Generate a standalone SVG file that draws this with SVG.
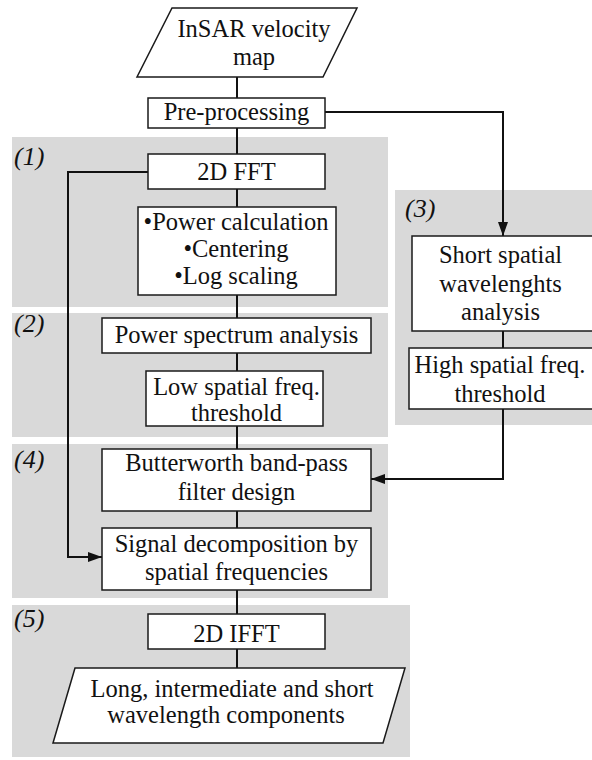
<svg xmlns="http://www.w3.org/2000/svg" width="592" height="760" viewBox="0 0 592 760">
<defs>
<style>
.reg{fill:#d9d9d9;stroke:none}
.box{fill:#ffffff;stroke:#1a1a1a;stroke-width:1.5}
.t{font-family:"Liberation Serif","Times New Roman",serif;font-size:24.5px;fill:#111;text-anchor:middle}
.lab{font-family:"Liberation Serif","Times New Roman",serif;font-size:26px;font-style:italic;fill:#111}
.ln{fill:none;stroke:#111;stroke-width:2}
</style>
<marker id="ah" viewBox="0 0 14 10" refX="14" refY="5" markerWidth="14" markerHeight="10" markerUnits="userSpaceOnUse" orient="auto">
<path d="M0,0 L14,5 L0,10 Z" fill="#111"/>
</marker>
</defs>
<rect width="592" height="760" fill="#ffffff"/>
<g id="regions">
<rect class="reg" x="12" y="137" width="376" height="170"/>
<rect class="reg" x="12" y="313" width="376" height="124"/>
<rect class="reg" x="395" y="190" width="197" height="235"/>
<rect class="reg" x="12" y="444" width="376" height="154"/>
<rect class="reg" x="12" y="605" width="398" height="152"/>
<text class="lab" x="14" y="165">(1)</text>
<text class="lab" x="14" y="332">(2)</text>
<text class="lab" x="405" y="217">(3)</text>
<text class="lab" x="14" y="468">(4)</text>
<text class="lab" x="14" y="627">(5)</text>
</g>
<g id="connectors">
<line class="ln" x1="237" y1="77" x2="237" y2="98"/>
<line class="ln" x1="237" y1="128" x2="237" y2="154"/>
<line class="ln" x1="237" y1="189" x2="237" y2="207"/>
<line class="ln" x1="237" y1="295" x2="237" y2="318"/>
<line class="ln" x1="237" y1="353" x2="237" y2="371"/>
<line class="ln" x1="237" y1="426" x2="237" y2="449"/>
<line class="ln" x1="237" y1="511" x2="237" y2="528"/>
<line class="ln" x1="237" y1="590" x2="237" y2="614"/>
<line class="ln" x1="237" y1="649" x2="237" y2="668"/>
<polyline class="ln" points="325,112 503,112 503,236" marker-end="url(#ah)"/>
<polyline class="ln" points="148,172 68,172 68,557 102,557" marker-end="url(#ah)"/>
<line class="ln" x1="503" y1="331" x2="503" y2="348"/>
<polyline class="ln" points="503,409 503,479 371,479" marker-end="url(#ah)"/>
</g>
<g id="n-insar">
<polygon class="box" points="172,8 357,8 323,77 137,77"/>
<text class="t" x="254" y="37">InSAR velocity</text>
<text class="t" x="254" y="65">map</text>
</g>
<g id="n-preproc">
<rect class="box" x="148" y="98" width="177" height="30"/>
<text class="t" x="236.5" y="120">Pre-processing</text>
</g>
<g id="n-fft">
<rect class="box" x="148" y="154" width="177" height="35"/>
<text class="t" x="236.5" y="180">2D FFT</text>
</g>
<g id="n-power">
<rect class="box" x="138" y="207" width="198" height="88"/>
<text class="t" x="236" y="230">•Power calculation</text>
<text class="t" x="236" y="257">•Centering</text>
<text class="t" x="236" y="284">•Log scaling</text>
</g>
<g id="n-psa">
<rect class="box" x="102" y="318" width="269" height="35"/>
<text class="t" x="236.5" y="343">Power spectrum analysis</text>
</g>
<g id="n-low">
<rect class="box" x="146" y="371" width="177" height="55"/>
<text class="t" x="236.5" y="395">Low spatial freq.</text>
<text class="t" x="236.5" y="421">threshold</text>
</g>
<g id="n-short">
<rect class="box" x="412" y="236" width="184" height="95"/>
<text class="t" x="500.5" y="263">Short spatial</text>
<text class="t" x="500.5" y="292">wavelenghts</text>
<text class="t" x="500.5" y="320">analysis</text>
</g>
<g id="n-high">
<rect class="box" x="409" y="348" width="187" height="61"/>
<text class="t" x="500" y="373">High spatial freq.</text>
<text class="t" x="500" y="402">threshold</text>
</g>
<g id="n-butter">
<rect class="box" x="102" y="449" width="269" height="62"/>
<text class="t" x="236.5" y="471">Butterworth band-pass</text>
<text class="t" x="236.5" y="500">filter design</text>
</g>
<g id="n-signal">
<rect class="box" x="102" y="528" width="269" height="62"/>
<text class="t" x="236.5" y="552">Signal decomposition by</text>
<text class="t" x="236.5" y="580">spatial frequencies</text>
</g>
<g id="n-ifft">
<rect class="box" x="148" y="614" width="177" height="35"/>
<text class="t" x="236.5" y="642">2D IFFT</text>
</g>
<g id="n-output">
<polygon class="box" points="75,668 405,668 383,743 53,743"/>
<text class="t" x="232" y="697">Long, intermediate and short</text>
<text class="t" x="226" y="723">wavelength components</text>
</g>
</svg>
